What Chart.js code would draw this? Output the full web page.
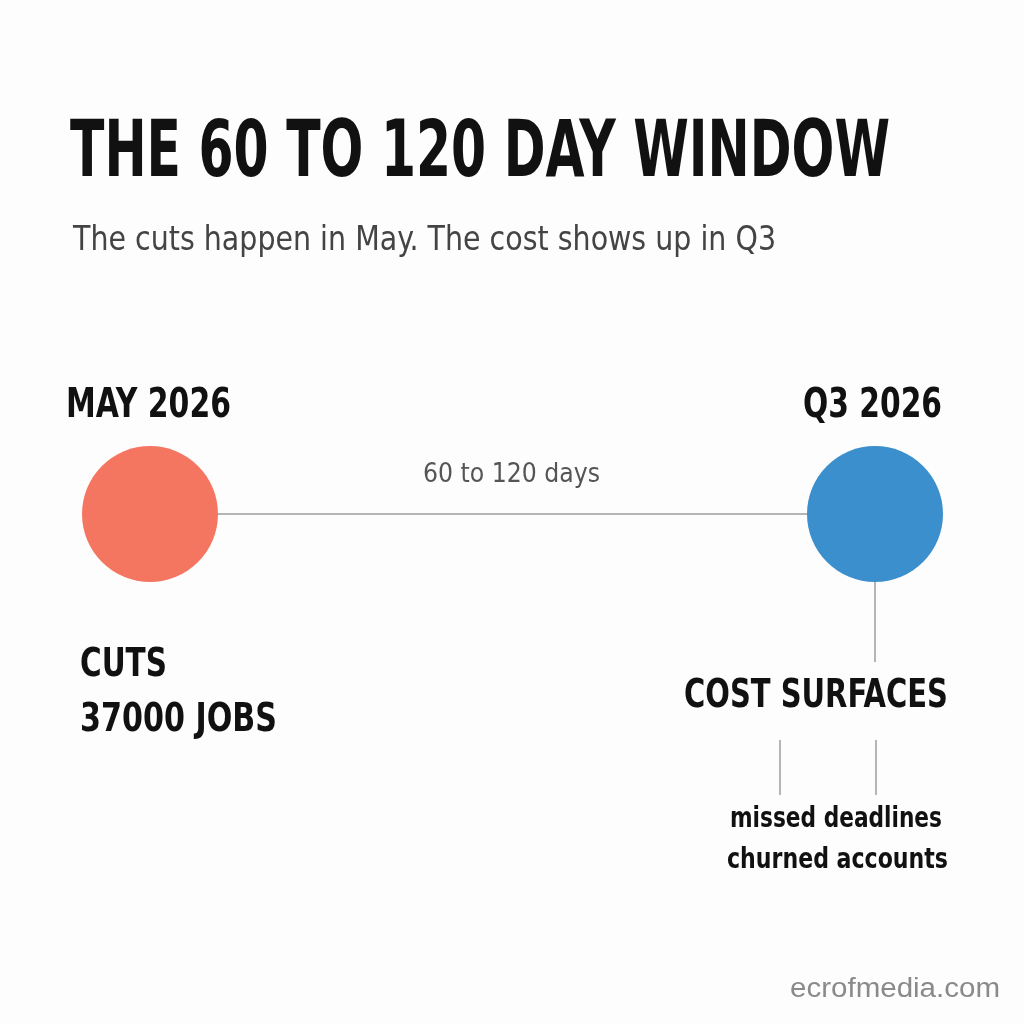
<!DOCTYPE html>
<html><head><meta charset="utf-8">
<script src="https://cdn.jsdelivr.net/npm/chart.js@4"></script>
<style>html,body{margin:0;padding:0;background:#fdfdfd}#c{display:block}</style>
</head><body>
<canvas id="c" width="1024" height="1024"></canvas>
<script>
const events = ["MAY 2026", "Q3 2026"];
const eventX = [150, 875];
const eventY = 514;
const eventColors = ["#f47661", "#3a8fcc"];
const gapLabel = "60 to 120 days";
const leftNotes = ["CUTS", "37000 JOBS"];
const rightHeading = "COST SURFACES";
const rightNotes = ["missed deadlines", "churned accounts"];
const title = "THE 60 TO 120 DAY WINDOW";
const subtitle = "The cuts happen in May. The cost shows up in Q3";
const source = "ecrofmedia.com";

const F = '"DejaVu Sans Condensed","DejaVu Sans",sans-serif';
const textPlugin = {
  id: 'txt',
  afterDatasetsDraw(ch) {
    const c = ch.ctx;
    const t = (s, x1, x2, y, font, col) => {
      c.save(); c.font = font; c.fillStyle = col; c.textAlign = 'left'; c.textBaseline = 'middle';
      const w = c.measureText(s).width, k = (x2 - x1) / w;
      c.translate(x1, y); c.scale(k, 1); c.fillText(s, 0, 0); c.restore();
    };
    const ln = (x1, y1, x2, y2) => { c.save(); c.strokeStyle = '#b5b5b5'; c.lineWidth = 2; c.beginPath(); c.moveTo(x1, y1); c.lineTo(x2, y2); c.stroke(); c.restore(); };
    t(title, 70, 890, 155, 'bold 79px ' + F, '#111');
    t(subtitle, 73, 776, 241, '33px ' + F, '#444');
    t(events[0], 66, 231, 406, 'bold 41px ' + F, '#111');
    t(events[1], 803, 942, 406, 'bold 41px ' + F, '#111');
    t(gapLabel, 423, 600, 475, '27px ' + F, '#555');
    ln(875, 582, 875, 662);
    t(leftNotes[0], 80, 167, 666, 'bold 39px ' + F, '#111');
    t(leftNotes[1], 80, 277, 721, 'bold 39px ' + F, '#111');
    t(rightHeading, 684, 948, 697, 'bold 39px ' + F, '#111');
    ln(780, 740, 780, 795); ln(876, 740, 876, 795);
    t(rightNotes[0], 730, 942, 820, 'bold 28px ' + F, '#111');
    t(rightNotes[1], 727, 948, 861, 'bold 28px ' + F, '#111');
    t(source, 790, 1000, 990, '27px "Liberation Sans","DejaVu Sans",sans-serif', '#8a8a8a');
  }
};
new Chart(document.getElementById('c'), {
  type: 'scatter',
  data: { datasets: [
    { data: eventX.map(x => ({x, y: eventY})), pointRadius: 68, pointHoverRadius: 68,
      backgroundColor: eventColors, borderWidth: 0, order: 1 },
    { data: eventX.map(x => ({x, y: eventY})), showLine: true, pointRadius: 0,
      borderColor: '#b5b5b5', borderWidth: 2, order: 2 }
  ]},
  options: {
    responsive: false, animation: false, events: [],
    layout: { padding: 0 },
    plugins: { legend: { display: false }, tooltip: { enabled: false } },
    scales: {
      x: { type: 'linear', min: 0, max: 1024, display: false },
      y: { type: 'linear', min: 0, max: 1024, reverse: true, display: false }
    }
  },
  plugins: [{
    id: 'fit',
    afterLayout(ch) {
      const a = ch.chartArea;
      const xs = ch.options.scales.x, ys = ch.options.scales.y;
      if (xs.min !== a.left) { xs.min = a.left; xs.max = a.right; ys.min = a.top; ys.max = a.bottom; ch.update('none'); }
    }
  }, textPlugin]
});
</script>
</body></html>
